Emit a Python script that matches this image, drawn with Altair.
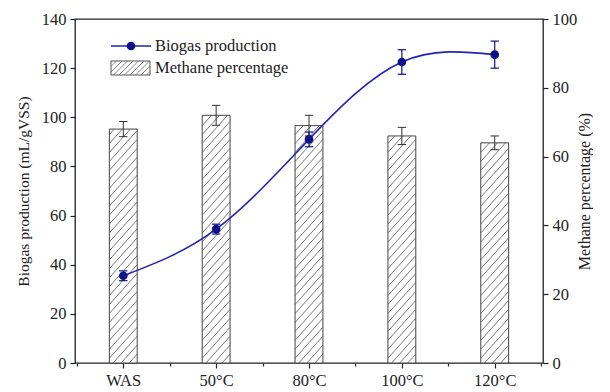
import altair as alt
import pandas as pd

categories = ["WAS", "50°C", "80°C", "100°C", "120°C"]
biogas = [35.5, 54.5, 91.0, 122.5, 125.5]
biogas_err = [2.0, 2.0, 3.0, 5.0, 5.5]
methane = [68.0, 72.0, 69.0, 66.0, 64.0]
methane_err = [2.2, 2.9, 3.0, 2.5, 2.0]

FONT = "Liberation Serif"
BAR_HW = 0.15
CAP_HW = 0.045
FS = 16.5

df = pd.DataFrame({
    "i": list(range(len(categories))),
    "cat": categories,
    "biogas": biogas,
    "b_lo": [v - e for v, e in zip(biogas, biogas_err)],
    "b_hi": [v + e for v, e in zip(biogas, biogas_err)],
    "methane": methane,
    "m_lo": [v - e for v, e in zip(methane, methane_err)],
    "m_hi": [v + e for v, e in zip(methane, methane_err)],
})
df["xl"] = df["i"] - BAR_HW
df["xr"] = df["i"] + BAR_HW
df["cl"] = df["i"] - CAP_HW
df["cr"] = df["i"] + CAP_HW


def hatch_segments(xc, top, hw=BAR_HW, rise=9.0, step=2.6):
    rows = []
    h = -rise
    while h < top:
        t0 = max(0.0, -h / rise)
        t1 = min(1.0, (top - h) / rise)
        if t1 > t0:
            rows.append(dict(x=xc - hw + 2 * hw * t0, y=h + rise * t0,
                             x2=xc - hw + 2 * hw * t1, y2=h + rise * t1))
        h += step
    return rows


hatch_rows = []
for i, v in enumerate(methane):
    hatch_rows += hatch_segments(i, v)
hatch_df = pd.DataFrame(hatch_rows)

xdom = [-0.52, len(categories) - 1 + 0.52]
xticks = [k / 2 for k in range(-1, 2 * len(categories))]
names = "[" + ",".join("'" + c + "'" for c in categories) + "]"
x_axis = alt.Axis(
    values=xticks, title=None, grid=False,
    labelExpr=f"datum.value % 1 == 0 ? {names}[datum.value] : ''",
    tickSize={"condition": {"test": "datum.value % 1 == 0", "value": 5}, "value": 3},
    labelFontSize=FS, labelPadding=4, domain=False,
)
X = alt.X("i:Q", scale=alt.Scale(domain=xdom, nice=False, zero=False), axis=x_axis)

left_axis = alt.Axis(
    orient="left", values=list(range(0, 141, 10)), grid=False,
    labelExpr="datum.value % 20 == 0 ? datum.label : ''",
    tickSize={"condition": {"test": "datum.value % 20 == 0", "value": 5}, "value": 3},
    title="Biogas production (mL/gVSS)", labelFontSize=FS, titleFontSize=15.5,
    titleFontWeight="normal", domain=False, labelPadding=4, titlePadding=10,
)
right_axis = alt.Axis(
    orient="right", values=list(range(0, 101, 10)), grid=False,
    labelExpr="datum.value % 20 == 0 ? datum.label : ''",
    tickSize={"condition": {"test": "datum.value % 20 == 0", "value": 5}, "value": 3},
    title="Methane percentage (%)", titleAngle=270, labelFontSize=FS, titleFontSize=16,
    titleFontWeight="normal", domain=False, labelPadding=4, titlePadding=16,
)

YB = alt.Scale(domain=[0, 140], nice=False)
YM = alt.Scale(domain=[0, 100], nice=False)

base = alt.Chart(df)

bars = base.mark_rect(fill="white", stroke="#444", strokeWidth=1).encode(
    x=alt.X("xl:Q", scale=alt.Scale(domain=xdom, nice=False, zero=False), axis=x_axis),
    x2="xr:Q",
    y=alt.Y("methane:Q", scale=YM, axis=right_axis),
    y2=alt.datum(0),
)
hatch = alt.Chart(hatch_df).mark_rule(color="#555", strokeWidth=0.8).encode(
    x="x:Q", x2="x2:Q", y="y:Q", y2="y2:Q"
)
m_err = base.mark_rule(color="#333", strokeWidth=1).encode(x="i:Q", y="m_lo:Q", y2="m_hi:Q")
m_cap_hi = base.mark_rule(color="#333", strokeWidth=1).encode(x="cl:Q", x2="cr:Q", y="m_hi:Q")
m_cap_lo = base.mark_rule(color="#333", strokeWidth=1).encode(x="cl:Q", x2="cr:Q", y="m_lo:Q")
methane_group = alt.layer(bars, hatch, m_err, m_cap_hi, m_cap_lo)

NAVY = "#10108a"
line = base.mark_line(color="#2424b0", strokeWidth=1.6, interpolate="natural").encode(
    x=X, y=alt.Y("biogas:Q", scale=YB, axis=left_axis)
)
b_err = base.mark_rule(color=NAVY, strokeWidth=1.2).encode(x="i:Q", y="b_lo:Q", y2="b_hi:Q")
b_cap_hi = base.mark_rule(color=NAVY, strokeWidth=1.2).encode(x="cl:Q", x2="cr:Q", y="b_hi:Q")
b_cap_lo = base.mark_rule(color=NAVY, strokeWidth=1.2).encode(x="cl:Q", x2="cr:Q", y="b_lo:Q")
pts = base.mark_point(filled=True, color=NAVY, size=75, opacity=1).encode(x="i:Q", y="biogas:Q")

# legend (pixel geometry inside plot area)
one = pd.DataFrame({"k": [0]})
LX0, LX1, LY1 = 36, 76, 27
BY0, BY1 = 42, 56
BX0, BX1 = 36, 75
leg_line = alt.Chart(one).mark_rule(color="#2424b0", strokeWidth=1.6).encode(
    x=alt.value(LX0), x2=alt.value(LX1), y=alt.value(LY1))
leg_pt = alt.Chart(one).mark_point(filled=True, color=NAVY, size=75, opacity=1).encode(
    x=alt.value((LX0 + LX1) / 2), y=alt.value(LY1))
leg_t1 = alt.Chart(one).mark_text(text="Biogas production", align="left", baseline="middle",
                                  font=FONT, fontSize=FS, color="#222").encode(
    x=alt.value(LX1 + 4), y=alt.value(LY1))
leg_t2 = alt.Chart(one).mark_text(text="Methane percentage", align="left", baseline="middle",
                                  font=FONT, fontSize=FS, color="#222").encode(
    x=alt.value(LX1 + 4), y=alt.value((BY0 + BY1) / 2))
leg_box = alt.Chart(one).mark_rect(fill="white", stroke="#555", strokeWidth=1).encode(
    x=alt.value(BX0), x2=alt.value(BX1), y=alt.value(BY0), y2=alt.value(BY1))

lh_rows = []
bh = BY1 - BY0
s = BX0 - bh
while s < BX1:
    xa, ya = s, BY1
    xb, yb = s + bh, BY0
    if xa < BX0:
        ya = BY1 - (BX0 - xa); xa = BX0
    if xb > BX1:
        yb = BY0 + (xb - BX1); xb = BX1
    if xb > xa:
        lh_rows.append(dict(px=xa, py=ya, px2=xb, py2=yb))
    s += 5.5
leg_hatch = alt.Chart(pd.DataFrame(lh_rows)).mark_rule(color="#666", strokeWidth=0.8).encode(
    x=alt.X("px:Q", scale=None), x2="px2:Q", y=alt.Y("py:Q", scale=None), y2="py2:Q")

biogas_group = alt.layer(line, b_err, b_cap_hi, b_cap_lo, pts,
                         leg_line, leg_pt, leg_t1, leg_box, leg_hatch, leg_t2)

chart = alt.layer(methane_group, biogas_group).resolve_scale(y="independent").properties(
    width=468, height=344,
    padding={"left": 8, "top": 3, "right": 0, "bottom": 0},
).configure_view(stroke="#222", strokeWidth=1.3).configure_axis(
    labelFont=FONT, titleFont=FONT, labelColor="#222", titleColor="#222",
    tickColor="#222", tickWidth=1.2,
)

chart.save("out.html", embed_options={"renderer": "svg", "actions": False})
